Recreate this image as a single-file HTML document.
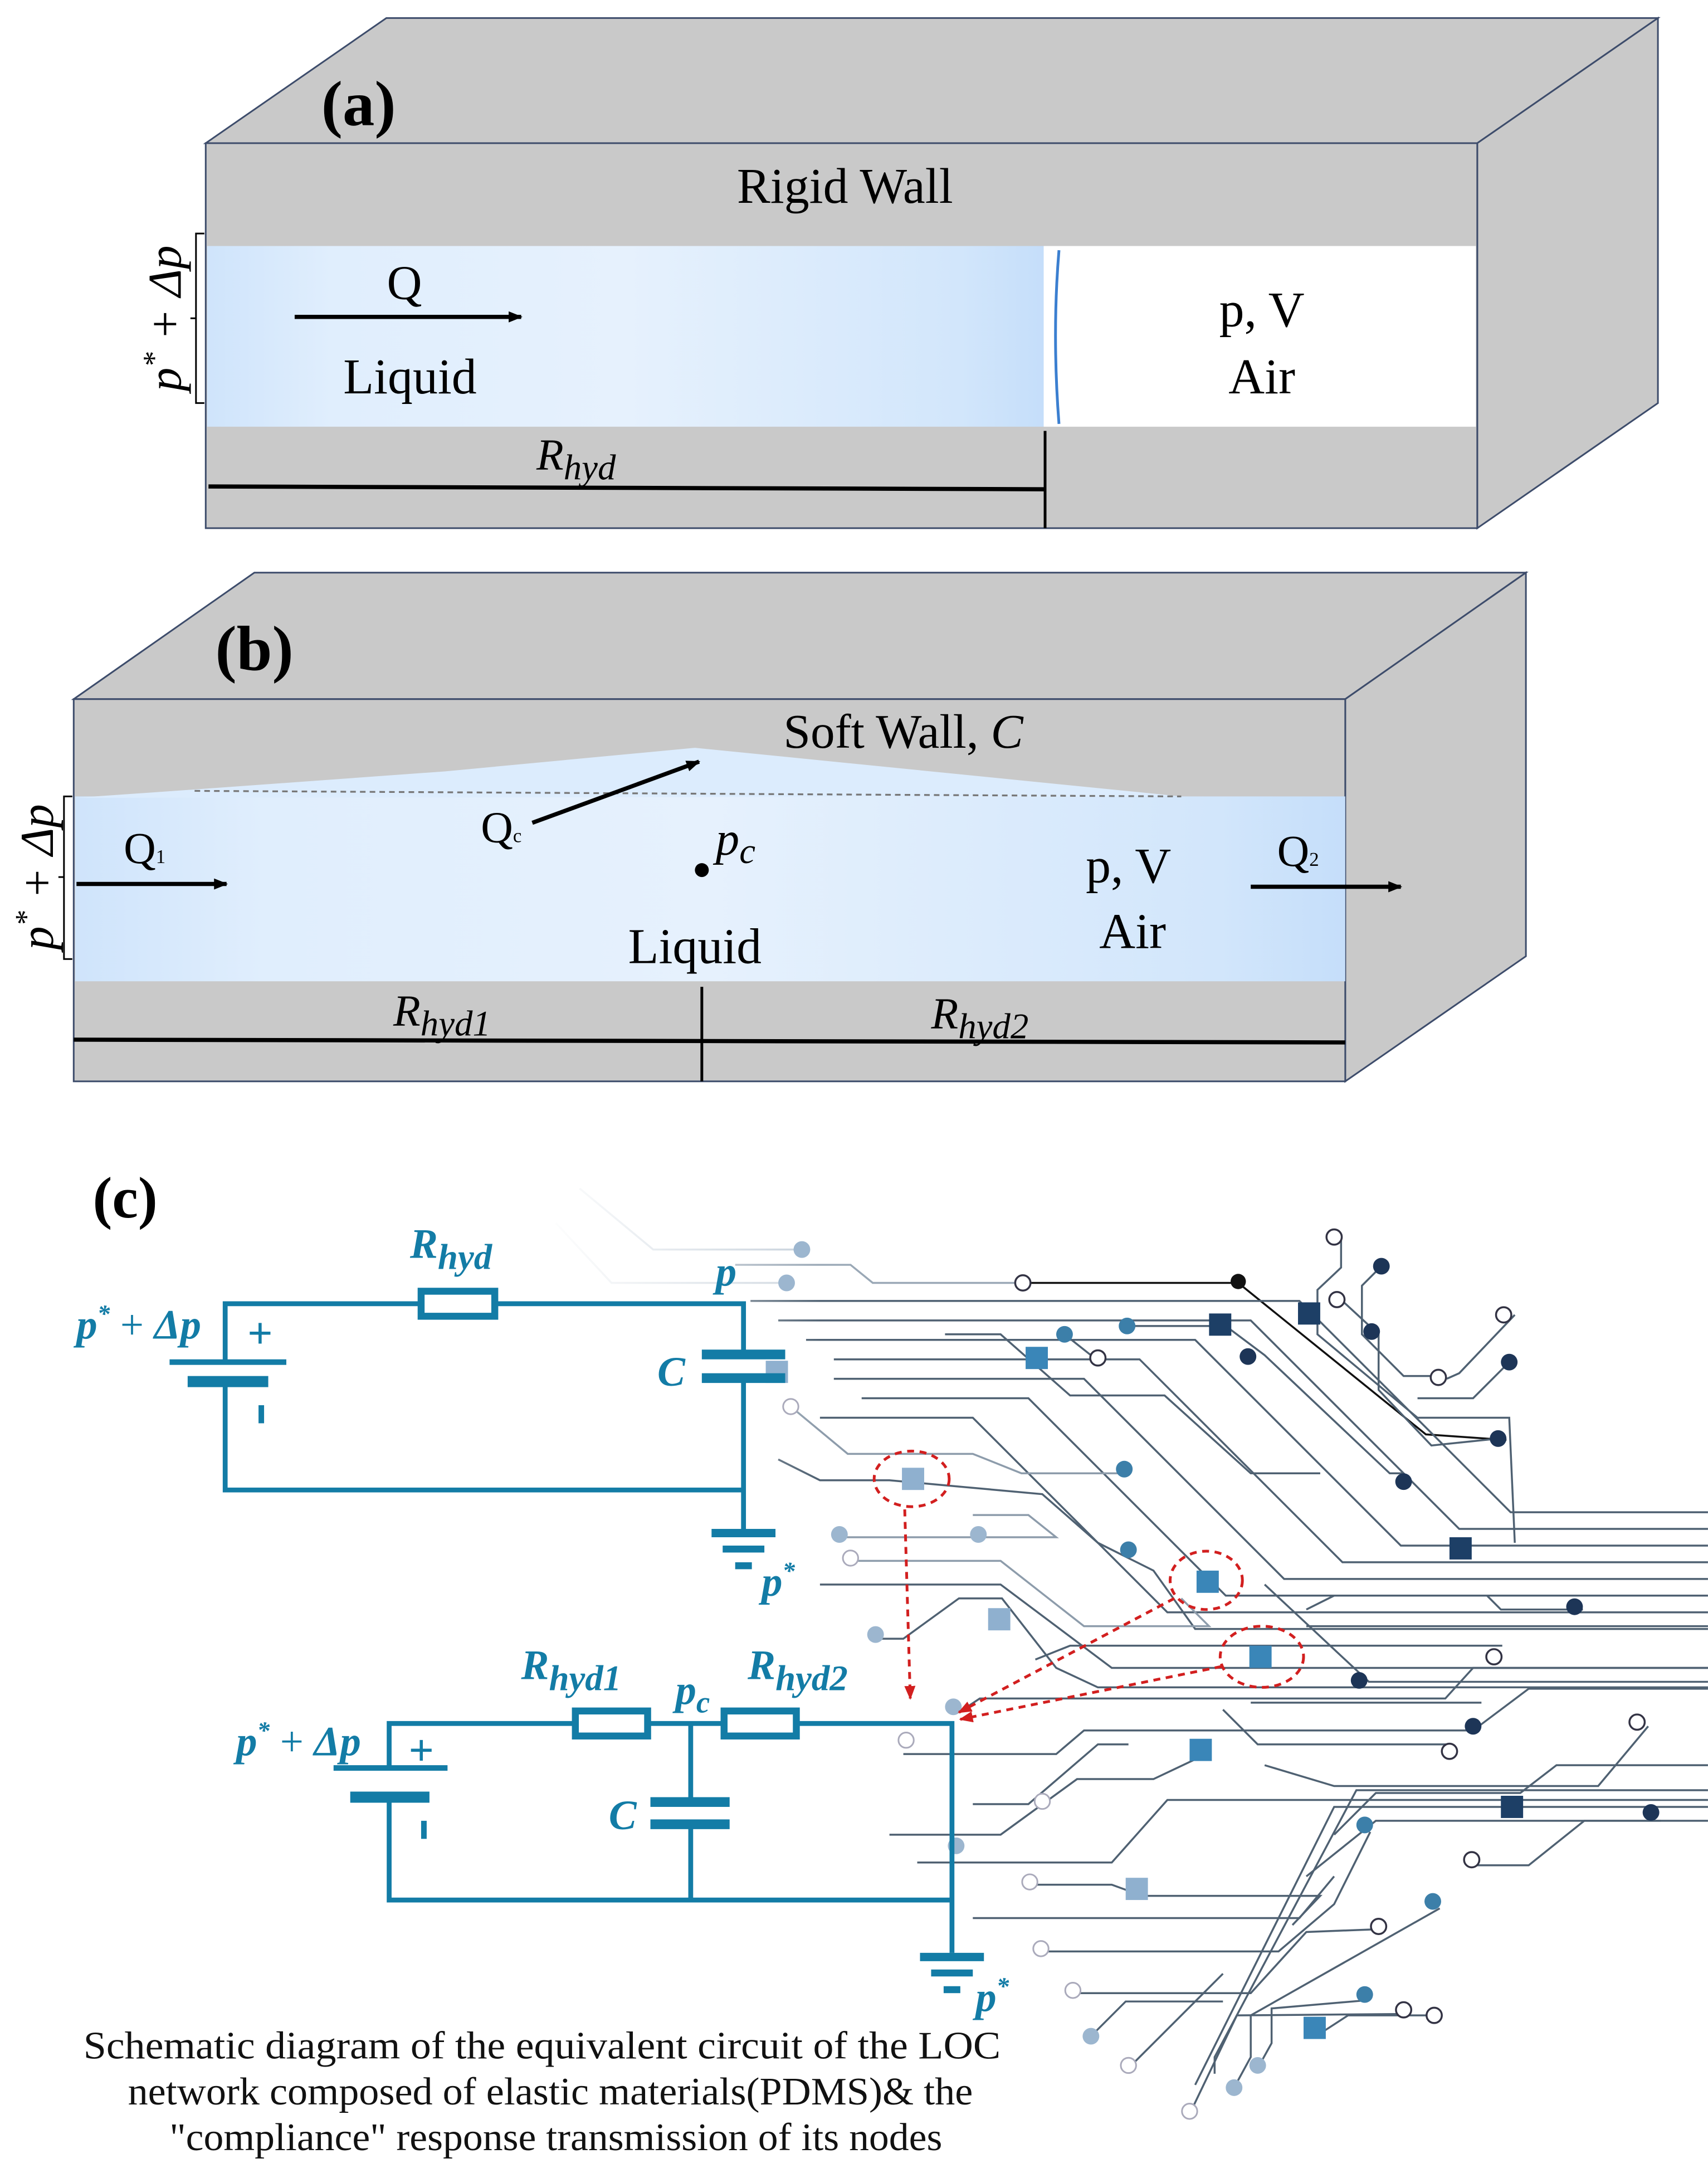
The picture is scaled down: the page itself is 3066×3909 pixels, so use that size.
<!DOCTYPE html>
<html><head><meta charset="utf-8"><style>html,body{margin:0;padding:0;background:#fff}svg{display:block}</style></head>
<body>
<svg width="3066" height="3909" viewBox="0 0 1229 1567" xmlns="http://www.w3.org/2000/svg" font-family="Liberation Serif, serif">
<defs>
<linearGradient id="liq" x1="0" x2="1" y1="0" y2="0">
<stop offset="0" stop-color="#cfe4fb"/><stop offset="0.15" stop-color="#e0eefd"/><stop offset="0.5" stop-color="#e6f1fd"/><stop offset="0.9" stop-color="#d2e6fb"/><stop offset="1" stop-color="#c5defa"/></linearGradient>
<marker id="ah" markerWidth="10" markerHeight="8" refX="9" refY="4" orient="auto" markerUnits="userSpaceOnUse"><path d="M0,0 L10,4 L0,8 Z" fill="#000"/></marker>
<marker id="rh" markerWidth="10" markerHeight="8" refX="9" refY="4" orient="auto" markerUnits="userSpaceOnUse"><path d="M0,0 L10,4 L0,8 Z" fill="#d21f1f"/></marker>
<linearGradient id="fade" x1="0" x2="1"><stop offset="0" stop-color="#fff" stop-opacity="1"/><stop offset="1" stop-color="#fff" stop-opacity="0"/></linearGradient>
</defs>

<!-- Panel a -->
<g stroke="#3d4c6b" stroke-width="1.2">
<polygon points="148,103 278,13 1193,13 1063,103" fill="#c9c9c9"/>
<polygon points="1063,103 1193,13 1193,290 1063,380" fill="#c9c9c9"/>
<rect x="148" y="103" width="915" height="277" fill="#c9c9c9"/>
</g>
<rect x="149" y="177" width="602" height="130" fill="url(#liq)"/>
<rect x="751" y="177" width="311" height="130" fill="#fff"/>
<path d="M762,180 Q757,240 762,305" stroke="#3b7fd0" stroke-width="2" fill="none"/>
<text x="258" y="90" font-size="46" font-weight="bold" text-anchor="middle">(a)</text>
<text x="608" y="146" font-size="36" text-anchor="middle">Rigid Wall</text>
<line x1="212" y1="228" x2="375" y2="228" stroke="#000" stroke-width="3" marker-end="url(#ah)"/>
<text x="291" y="215" font-size="35" text-anchor="middle">Q</text>
<text x="295" y="283" font-size="36" text-anchor="middle">Liquid</text>
<text x="908" y="235" font-size="36" text-anchor="middle">p, V</text>
<text x="908" y="283" font-size="36" text-anchor="middle">Air</text>
<text x="386" y="338" font-size="32" font-style="italic">R<tspan font-size="26" dy="7">hyd</tspan></text>
<line x1="150" y1="350" x2="752" y2="352" stroke="#000" stroke-width="3"/>
<line x1="752" y1="310" x2="752" y2="380" stroke="#000" stroke-width="2"/>
<path d="M147,168 H141 V290 H147 M141,229 H137" stroke="#000" stroke-width="1.2" fill="none"/>
<text transform="translate(130,229) rotate(-90)" font-size="34" font-style="italic" text-anchor="middle">p<tspan font-size="22" dy="-12">*</tspan><tspan dy="12"> + Δp</tspan></text>

<!-- Panel b -->
<g stroke="#3d4c6b" stroke-width="1.2">
<polygon points="53,503 183,412 1098,412 968,503" fill="#c9c9c9"/>
<polygon points="968,503 1098,412 1098,688 968,778" fill="#c9c9c9"/>
<rect x="53" y="503" width="915" height="275" fill="#c9c9c9"/>
</g>
<rect x="54" y="573" width="914" height="133" fill="url(#liq)"/>
<polygon points="140,568 320,555 500,538 680,556 850,573 54,574" fill="#dcecfd"/>
<line x1="140" y1="569" x2="850" y2="573" stroke="#777" stroke-width="1.3" stroke-dasharray="4,3"/>
<text x="183" y="482" font-size="46" font-weight="bold" text-anchor="middle">(b)</text>
<text x="650" y="538" font-size="35" text-anchor="middle">Soft Wall,  <tspan font-style="italic">C</tspan></text>
<line x1="383" y1="592" x2="503" y2="548" stroke="#000" stroke-width="3" marker-end="url(#ah)"/>
<text x="346" y="606" font-size="32">Q<tspan font-size="14">c</tspan></text>
<circle cx="505" cy="626" r="5" fill="#000"/>
<text x="515" y="615" font-size="34" font-style="italic">p<tspan font-size="26" dy="6">c</tspan></text>
<text x="89" y="621" font-size="32">Q<tspan font-size="14">1</tspan></text>
<line x1="55" y1="636" x2="163" y2="636" stroke="#000" stroke-width="3" marker-end="url(#ah)"/>
<text x="812" y="635" font-size="36" text-anchor="middle">p, V</text>
<text x="815" y="682" font-size="36" text-anchor="middle">Air</text>
<text x="919" y="623" font-size="32">Q<tspan font-size="14">2</tspan></text>
<line x1="900" y1="638" x2="1008" y2="638" stroke="#000" stroke-width="3" marker-end="url(#ah)"/>
<text x="500" y="693" font-size="36" text-anchor="middle">Liquid</text>
<text x="283" y="738" font-size="32" font-style="italic">R<tspan font-size="26" dy="7">hyd1</tspan></text>
<text x="670" y="740" font-size="32" font-style="italic">R<tspan font-size="26" dy="7">hyd2</tspan></text>
<line x1="53" y1="748" x2="968" y2="750" stroke="#000" stroke-width="3"/>
<line x1="505" y1="710" x2="505" y2="778" stroke="#000" stroke-width="2"/>
<path d="M52,573 H46 V690 H52 M46,631 H42" stroke="#000" stroke-width="1.2" fill="none"/>
<text transform="translate(38,631) rotate(-90)" font-size="34" font-style="italic" text-anchor="middle">p<tspan font-size="22" dy="-12">*</tspan><tspan dy="12"> + Δp</tspan></text>

<!-- Panel c traces -->
<g fill="none" stroke="#4f6172" stroke-width="1.4">
<path d="M417,855 L470,899 H577" stroke="#c8d2dc"/>
<path d="M400,880 L440,923 H566" stroke="#d0d8e0"/>
<path d="M529,910 H612 L628,923 H736" stroke="#9aa8b6"/>
<path d="M736,923 H891 L1026,1032 L1084,1036" stroke="#111"/>
<path d="M540,936 H935 L1087,1088 H1229"/>
<path d="M560,950 H900 L1050,1100 H1229"/>
<path d="M580,964 H860 L1008,1112 H1229"/>
<path d="M600,978 H820 L966,1124 H1229"/>
<path d="M600,992 H780 L924,1136 H1229"/>
<path d="M620,1006 H740 L882,1148 H1229"/>
<path d="M590,1020 H700 L840,1160 H1229"/>
<path d="M569,1012 L610,1046 H700 L735,1060 H809" stroke="#8d9cab"/>
<path d="M560,1050 L590,1065 H640 L750,1075 L790,1110 L830,1130 L860,1172 H1229"/>
<path d="M604,1106 H760 L740,1090 H700" stroke="#8d9cab"/>
<path d="M612,1123 H720 L780,1170 H870 L850,1150" stroke="#8d9cab"/>
<path d="M590,1140 H720 L800,1200 H1229"/>
<path d="M630,1179 H650 L690,1150 H721 L760,1200 L790,1214 H1229"/>
<path d="M745,1194 L770,1184 H1081"/>
<path d="M910,1140 L985,1210 H1229"/>
<path d="M966,936 L992,960 V1000 L1030,1040 L1078,1035"/>
<path d="M965,890 V912 L948,928 V960 L1020,1020 L1086,1020 L1090,1110"/>
<path d="M994,911 L980,925 V960 L1010,990 H1041"/>
<path d="M1090,946 L1050,988 L1041,992"/>
<path d="M1086,980 L1060,1006 H1020"/>
<path d="M811,954 H882 L910,975 L1000,1060 H1010"/>
<path d="M766,960 L790,979"/>
<path d="M680,960 H720 L770,1004 H838 L900,1060 H950"/>
<path d="M940,1158 L960,1148 H1070 L1080,1158 H1139"/>
<path d="M940,1170 H1229"/>
<path d="M690,1232 L705,1222 H1040 L1060,1200 H1229"/>
<path d="M650,1262 H760 L780,1245 H1060 L1100,1215 H1229"/>
<path d="M880,1230 L905,1255 H1043"/>
<path d="M900,1225 H1066"/>
<path d="M910,1270 L960,1285 H1150 L1186,1242"/>
<path d="M700,1298 H740 L790,1255 H812"/>
<path d="M640,1320 H720 L775,1280 H830 L868,1262"/>
<path d="M660,1340 H800 L840,1295 H1229"/>
<path d="M960,1320 L990,1290 H1094 L1120,1270 H1229"/>
<path d="M1059,1342 H1100 L1140,1310 H1195"/>
<path d="M940,1350 L990,1310 H1229"/>
<path d="M741,1356 H800 L822,1364 H950 L930,1385"/>
<path d="M700,1380 H935 L960,1350"/>
<path d="M749,1404 H920 L960,1370 L986,1318"/>
<path d="M772,1434 H900 L940,1390 L992,1388"/>
<path d="M860,1500 L960,1300 H1229"/>
<path d="M874,1492 V1480 L976,1288 H1229"/>
<path d="M888,1502 L900,1480 V1450 L1036,1373"/>
<path d="M905,1488 L915,1470 V1445 L985,1439"/>
<path d="M856,1521 L890,1450 L1010,1449"/>
<path d="M950,1463 L970,1450 H1038"/>
<path d="M812,1488 L840,1460 L880,1420"/>
<path d="M785,1465 L810,1440 H880"/>
</g>
<rect x="390" y="840" width="200" height="600" fill="url(#fade)"/>
<!-- dots -->
<g>
<circle cx="891" cy="922" r="5.5" fill="#111"/>
<g fill="#1d3557"><circle cx="994" cy="911" r="6"/><circle cx="1086" cy="980" r="6"/><circle cx="1078" cy="1035" r="6"/><circle cx="898" cy="976" r="6"/><circle cx="987" cy="958" r="6"/><circle cx="1010" cy="1066" r="6"/><circle cx="1133" cy="1156" r="6"/><circle cx="978" cy="1209" r="6"/><circle cx="1060" cy="1242" r="6"/><circle cx="1188" cy="1304" r="6"/></g>
<g fill="#3c7fa9"><circle cx="809" cy="1057" r="6"/><circle cx="812" cy="1115" r="6"/><circle cx="766" cy="960" r="6"/><circle cx="811" cy="954" r="6"/><circle cx="982" cy="1313" r="6"/><circle cx="1031" cy="1368" r="6"/><circle cx="982" cy="1435" r="6"/></g>
<g fill="#9cb6cf"><circle cx="577" cy="899" r="6"/><circle cx="566" cy="923" r="6"/><circle cx="704" cy="1104" r="6"/><circle cx="604" cy="1104" r="6"/><circle cx="630" cy="1176" r="6"/><circle cx="686" cy="1228" r="6"/><circle cx="785" cy="1465" r="6"/><circle cx="905" cy="1486" r="6"/><circle cx="888" cy="1502" r="6"/><circle cx="688" cy="1328" r="6"/></g>
<g fill="#fff" stroke="#334" stroke-width="1.4"><circle cx="736" cy="923" r="5.5"/><circle cx="960" cy="890" r="5.5"/><circle cx="962" cy="935" r="5.5"/><circle cx="1082" cy="946" r="5.5"/><circle cx="1035" cy="991" r="5.5"/><circle cx="790" cy="977" r="5.5"/><circle cx="1075" cy="1192" r="5.5"/><circle cx="1178" cy="1239" r="5.5"/><circle cx="1043" cy="1260" r="5.5"/><circle cx="1059" cy="1338" r="5.5"/><circle cx="992" cy="1386" r="5.5"/><circle cx="1010" cy="1446" r="5.5"/><circle cx="1032" cy="1450" r="5.5"/></g>
<g fill="#fff" stroke="#aab" stroke-width="1.2"><circle cx="569" cy="1012" r="5.5"/><circle cx="612" cy="1121" r="5.5"/><circle cx="750" cy="1296" r="5.5"/><circle cx="741" cy="1354" r="5.5"/><circle cx="812" cy="1486" r="5.5"/><circle cx="856" cy="1519" r="5.5"/><circle cx="772" cy="1432" r="5.5"/><circle cx="749" cy="1402" r="5.5"/><circle cx="652" cy="1252" r="5.5"/></g>
<g fill="#1d3f66"><rect x="934" y="937" width="16" height="16"/><rect x="870" y="945" width="16" height="16"/><rect x="1043" y="1106" width="16" height="16"/><rect x="1080" y="1292" width="16" height="16"/></g>
<g fill="#3a86b8"><rect x="738" y="969" width="16" height="16"/><rect x="861" y="1130" width="16" height="16"/><rect x="899" y="1184" width="16" height="16"/><rect x="856" y="1251" width="16" height="16"/><rect x="938" y="1451" width="16" height="16"/></g>
<g fill="#8fb0cf"><rect x="649" y="1056" width="16" height="16"/><rect x="711" y="1157" width="16" height="16"/><rect x="810" y="1351" width="16" height="16"/><rect x="551" y="979" width="16" height="16"/></g>
</g>
<!-- red dashed -->
<g fill="none" stroke="#d21f1f" stroke-width="2" stroke-dasharray="5,4">
<ellipse cx="656" cy="1064" rx="27" ry="20"/>
<ellipse cx="868" cy="1137" rx="26" ry="21"/>
<ellipse cx="908" cy="1192" rx="30" ry="22"/>
<line x1="651" y1="1086" x2="655" y2="1222" marker-end="url(#rh)"/>
<line x1="845" y1="1150" x2="690" y2="1232" marker-end="url(#rh)"/>
<line x1="879" y1="1199" x2="691" y2="1237" marker-end="url(#rh)"/>
</g>

<text x="90" y="876" font-size="42" font-weight="bold" text-anchor="middle">(c)</text>

<!-- circuit 1 -->
<g stroke="#137ca6" fill="none" stroke-width="3.5">
<path d="M303,938 H162 V980"/>
<path d="M356,938 H535 V975"/>
<path d="M162,995 V1072 H535"/>
<path d="M535,992 V1103"/>
<rect x="303" y="929" width="53" height="18" stroke-width="5"/>
</g>
<g fill="#137ca6">
<rect x="122" y="978" width="84" height="4"/><rect x="135" y="990" width="58" height="8"/>
<rect x="505" y="971" width="60" height="7"/><rect x="505" y="988" width="60" height="7"/>
<rect x="512" y="1100" width="46" height="6"/><rect x="520" y="1112" width="30" height="5"/><rect x="529" y="1124" width="12" height="5"/>
<rect x="186" y="1011" width="4" height="13"/>
</g>
<g fill="#137ca6" font-weight="bold" font-style="italic" font-size="30">
<text x="295" y="905">R<tspan font-size="26" dy="8">hyd</tspan></text>
<text x="515" y="925">p</text>
<text x="473" y="997">C</text>
<text x="548" y="1148">p<tspan font-size="18" dy="-12">*</tspan></text>
<text x="55" y="963">p<tspan font-size="18" dy="-12">*</tspan><tspan dy="12" font-style="normal" font-weight="normal"> + </tspan>Δp</text>
<text x="178" y="970" font-style="normal" font-size="32">+</text>
</g>

<!-- circuit 2 -->
<g stroke="#137ca6" fill="none" stroke-width="3.5">
<path d="M413,1240 H280 V1272"/>
<path d="M466,1240 H520"/>
<path d="M573,1240 H685 V1405"/>
<path d="M497,1240 V1297"/>
<path d="M497,1313 V1367"/>
<path d="M280,1293 V1367 H685"/>
<rect x="414" y="1231" width="52" height="18" stroke-width="5"/>
<rect x="521" y="1231" width="52" height="18" stroke-width="5"/>
</g>
<g fill="#137ca6">
<rect x="240" y="1270" width="82" height="4"/><rect x="252" y="1289" width="57" height="8"/>
<rect x="468" y="1293" width="57" height="7"/><rect x="468" y="1309" width="57" height="7"/>
<rect x="662" y="1405" width="46" height="6"/><rect x="670" y="1417" width="30" height="5"/><rect x="679" y="1429" width="12" height="5"/>
<rect x="303" y="1310" width="4" height="13"/>
</g>
<g fill="#137ca6" font-weight="bold" font-style="italic" font-size="30">
<text x="375" y="1208">R<tspan font-size="26" dy="8">hyd1</tspan></text>
<text x="486" y="1226">p<tspan font-size="22" dy="6">c</tspan></text>
<text x="538" y="1208">R<tspan font-size="26" dy="8">hyd2</tspan></text>
<text x="438" y="1316">C</text>
<text x="702" y="1447">p<tspan font-size="18" dy="-12">*</tspan></text>
<text x="170" y="1263">p<tspan font-size="18" dy="-12">*</tspan><tspan dy="12" font-style="normal" font-weight="normal"> + </tspan>Δp</text>
<text x="294" y="1270" font-style="normal" font-size="32">+</text>
</g>

<g font-size="28" fill="#111">
<text x="60" y="1481" textLength="660" lengthAdjust="spacingAndGlyphs">Schematic diagram of the equivalent circuit of the LOC</text>
<text x="92" y="1514" textLength="608" lengthAdjust="spacingAndGlyphs">network composed of elastic materials(PDMS)&amp; the</text>
<text x="122" y="1547" textLength="556" lengthAdjust="spacingAndGlyphs">"compliance" response transmission of its nodes</text>
</g>
</svg>
</body></html>
